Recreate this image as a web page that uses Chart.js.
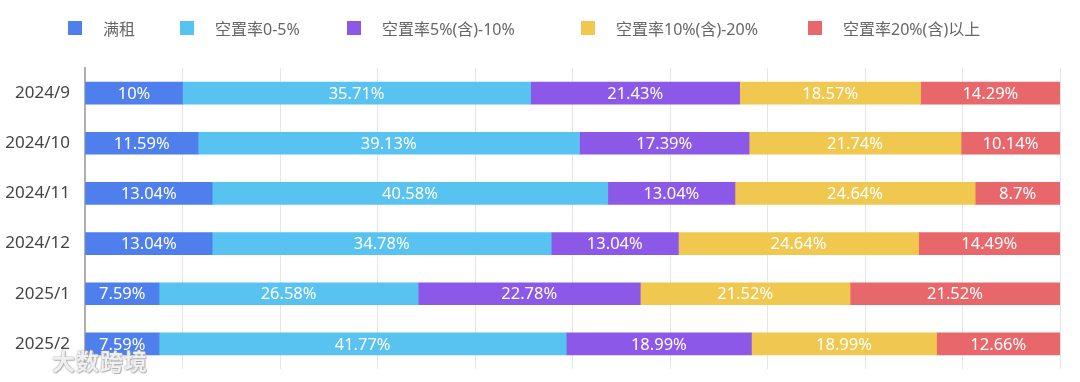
<!DOCTYPE html>
<html>
<head>
<meta charset="utf-8">
<script src="https://cdn.jsdelivr.net/npm/chart.js@4.4.1/dist/chart.umd.min.js"></script>
<style>
  html, body { margin: 0; padding: 0; background: #fff; }
  #wrap { position: relative; width: 1080px; height: 382px; font-family: 'Noto Sans', 'Noto Sans CJK SC', sans-serif; }
  #chart { position: absolute; left: 0; top: 0; }
  .leg { position: absolute; top: 16px; height: 24px; display: flex; align-items: center; font-size: 16px; color: #666; white-space: nowrap; }
  .leg i { display: inline-block; width: 14px; height: 14px; margin-right: 21px; }
  #mark { position: absolute; left: 52px; top: 343px; font-size: 23px; font-weight: bold; color: rgba(255,255,255,0.85); letter-spacing: 1px;
          font-family: 'Noto Sans CJK SC', sans-serif;
          text-shadow: 0 0 1px #999, 0 0 2px #aaa, 1px 1px 1px #bbb; }
</style>
</head>
<body>
<div id="wrap">
  <canvas id="chart" width="1080" height="382"></canvas>
  <div id="legend"></div>
  <div id="mark">大数跨境</div>
</div>
<script>
// 月份
const months = ['2024/9', '2024/10', '2024/11', '2024/12', '2025/1', '2025/2'];

// 各空置率区间占比 (%)
const fullRent = [10, 11.59, 13.04, 13.04, 7.59, 7.59];
const vac0to5 = [35.71, 39.13, 40.58, 34.78, 26.58, 41.77];
const vac5to10 = [21.43, 17.39, 13.04, 13.04, 22.78, 18.99];
const vac10to20 = [18.57, 21.74, 24.64, 24.64, 21.52, 18.99];
const vac20up = [14.29, 10.14, 8.7, 14.49, 21.52, 12.66];

const seriesNames = ['满租', '空置率0-5%', '空置率5%(含)-10%', '空置率10%(含)-20%', '空置率20%(含)以上'];
const seriesData = [fullRent, vac0to5, vac5to10, vac10to20, vac20up];
const colors = ['#4f7fec', '#58c2f0', '#8c58e8', '#f1c84f', '#e8676a'];

// légende en HTML, positions
const legendLeft = [68, 180, 347, 581, 808];
const legendEl = document.getElementById('legend');
seriesNames.forEach((name, i) => {
    const d = document.createElement('div');
    d.className = 'leg';
    d.style.left = legendLeft[i] + 'px';
    d.innerHTML = '<i style="background:' + colors[i] + '"></i>' + name;
    legendEl.appendChild(d);
});

// étiquettes au centre de chaque segment
const barLabels = {
    id: 'barLabels',
    afterDatasetsDraw(chart) {
        const ctx = chart.ctx;
        ctx.save();
        ctx.font = "16.5px 'Noto Sans', 'Noto Sans CJK SC', sans-serif";
        ctx.fillStyle = '#fff';
        ctx.textAlign = 'center';
        ctx.textBaseline = 'middle';
        chart.data.datasets.forEach((ds, i) => {
            chart.getDatasetMeta(i).data.forEach((bar, j) => {
                const cx = (bar.x + bar.base) / 2;
                ctx.fillText(ds.data[j] + '%', cx, bar.y + 1);
            });
        });
        ctx.restore();
    }
};

new Chart(document.getElementById('chart'), {
    type: 'bar',
    data: {
        labels: months,
        datasets: seriesData.map((data, i) => ({
            label: seriesNames[i],
            data: data,
            backgroundColor: colors[i],
            borderWidth: 0,
            barThickness: 22
        }))
    },
    options: {
        indexAxis: 'y',
        responsive: false,
        animation: false,
        layout: { padding: { top: 68, bottom: 13, right: 20, left: 0 } },
        plugins: {
            legend: { display: false },
            tooltip: { enabled: false }
        },
        scales: {
            x: {
                stacked: true,
                min: 0,
                max: 100,
                ticks: { display: false, stepSize: 10 },
                grid: { color: '#e6e6e6', drawTicks: false },
                border: { display: false }
            },
            y: {
                stacked: true,
                afterFit: s => {
                    s.width = 85;
                    // le padding des ticks ne doit pas réduire la zone verticale
                    s.paddingTop = 0;
                    s.paddingBottom = 0;
                },
                ticks: {
                    padding: 15,
                    color: '#444',
                    font: { size: 17, family: "'Noto Sans', 'Noto Sans CJK SC', sans-serif" }
                },
                grid: { display: false, drawTicks: false },
                border: { display: true, color: '#b0b0b0', width: 2 }
            }
        }
    },
    plugins: [barLabels]
});
</script>
</body>
</html>
